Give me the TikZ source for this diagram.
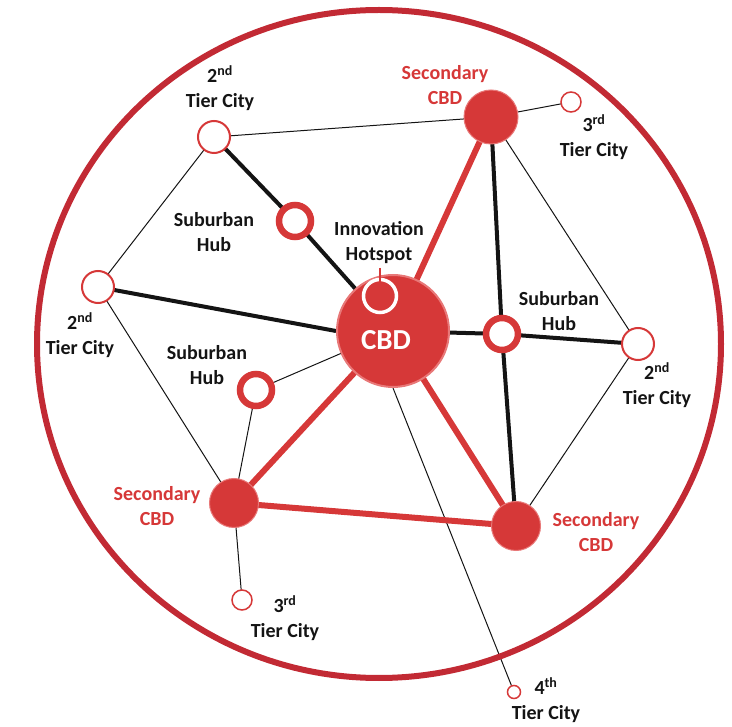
\documentclass[tikz,border=0pt]{standalone}
\usepackage{fontspec}
\setmainfont{Carlito}
\usetikzlibrary{backgrounds}

\definecolor{cityred}{RGB}{214,56,56}
\definecolor{ringred}{RGB}{194,42,52}
\definecolor{cbdedge}{RGB}{232,120,120}
\definecolor{inkblack}{RGB}{20,20,20}

\begin{document}
\begin{tikzpicture}[x=1pt,y=-1pt,
  lbl/.style={font=\bfseries\fontsize{20}{25}\selectfont, text=inkblack, align=center, inner sep=0pt},
  redlbl/.style={lbl, text=cityred},
  tier/.style={circle, draw=cityred, fill=white, line width=2pt, minimum size=32pt, inner sep=0pt},
  smalltier/.style={circle, draw=cityred, fill=white, line width=1.5pt, minimum size=20pt, inner sep=0pt},
  hub/.style={circle, draw=cityred, fill=white, line width=6.5pt, minimum size=32pt, inner sep=0pt},
  second/.style={circle, draw=cbdedge, fill=cityred, line width=1pt, minimum size=49pt, inner sep=0pt},
  thin/.style={line width=1pt, inkblack},
  thick/.style={line width=4pt, inkblack},
  redline/.style={line width=6pt, cityred}]
  \useasboundingbox (0,0) rectangle (732,727);

  % region
  \draw[ringred, line width=6pt] (379,344) ellipse [x radius=342, y radius=334];

  % places
  \node[circle, draw=cbdedge, fill=cityred, line width=2pt, minimum size=112pt, inner sep=0pt] (cbd) at (393,331) {};
  \node[font=\bfseries\fontsize{29}{30}\selectfont, text=white, inner sep=0pt] (cbdtxt) at (386,340) {CBD};
  \node[circle, draw=white, line width=3.5pt, minimum size=33pt, inner sep=0pt] (hot) at (380,296) {};
  \coordinate (hottop) at (380,268);
  \coordinate (hotin) at (380,289);

  \node[second, minimum size=54pt] (secN) at (491,117) {};
  \node[second] (secW) at (234,503) {};
  \node[second] (secE) at (516,526) {};

  \node[tier] (tierN) at (214,137) {};
  \node[tier] (tierW) at (98,287) {};
  \node[tier] (tierE) at (638,344) {};
  \node[smalltier] (thirdN) at (571,102) {};
  \node[smalltier] (thirdS) at (242,600) {};
  \node[smalltier, minimum size=13pt] (fourth) at (514,692) {};

  \node[hub] (hubN) at (295,221) {};
  \node[hub] (hubE) at (502,334) {};
  \node[hub] (hubW) at (256,390) {};

  % links
  \begin{scope}[on background layer]
    \draw[thin] (tierN.center) -- (secN.center);
    \draw[thin] (tierN.center) -- (tierW.center);
    \draw[thin] (tierW.center) -- (secW.center);
    \draw[thin] (secN.center) -- (thirdN.center);
    \draw[thin] (secN.center) -- (tierE.center);
    \draw[thin] (tierE.center) -- (secE.center);
    \draw[thin] (cbd.center) -- (hubW.center);
    \draw[thin] (hubW.center) -- (secW.center);
    \draw[thin] (secW.center) -- (thirdS.center);
    \draw[thin] (cbd.south) -- (fourth.center);

    \draw[thick] (tierN.center) -- (hubN.center) -- (cbd.center);
    \draw[thick] (tierW.center) -- (cbd.west);
    \draw[thick] (cbd.center) -- (hubE.center) -- (tierE.center);
    \draw[thick] (secN.center) -- (hubE.center) -- (secE.center);

    \draw[redline] (cbd.center) -- (secN.center);
    \draw[redline] (cbd.center) -- (secW.center);
    \draw[redline] (cbd.center) -- (secE.center);
    \draw[redline] (secW.center) -- (secE.center);
  \end{scope}
  \draw[cityred, line width=1.5pt] (hottop) -- (hotin);

  % labels
  \node[lbl] (tierNlbl) at (220,88) {2\textsuperscript{nd}\\Tier City};
  \node[redlbl] (secNlbl) at (445,85) {Secondary\\CBD};
  \node[lbl] (thirdNlbl) at (594,137) {3\textsuperscript{rd}\\Tier City};
  \node[lbl] (hubNlbl) at (214,232) {Suburban\\Hub};
  \node[lbl] (hotlbl) at (379,243) {Innovation\\Hotspot};
  \node[lbl] (tierWlbl) at (80,335) {2\textsuperscript{nd}\\Tier City};
  \node[lbl] (hubElbl) at (559,311) {Suburban\\Hub};
  \node[lbl] (tierElbl) at (657,385) {2\textsuperscript{nd}\\Tier City};
  \node[lbl] (hubWlbl) at (207,365) {Suburban\\Hub};
  \node[redlbl] (secWlbl) at (157,506) {Secondary\\CBD};
  \node[redlbl] (secElbl) at (596,532) {Secondary\\CBD};
  \node[lbl] (thirdSlbl) at (285,618) {3\textsuperscript{rd}\\Tier City};
  \node[lbl] (fourthlbl) at (546,700) {4\textsuperscript{th}\\Tier City};
\end{tikzpicture}
\end{document}
